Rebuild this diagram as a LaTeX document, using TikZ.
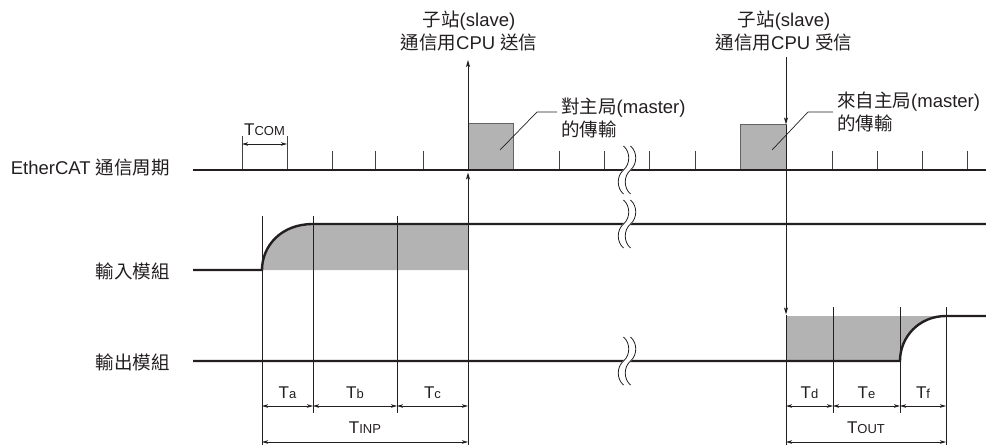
\documentclass[tikz,border=0pt]{standalone}
\usepackage{fontspec}
\setmainfont{Liberation Sans}
\newfontfamily\cjk{Noto Sans CJK TC}
\usetikzlibrary{arrows.meta}
\definecolor{ink}{HTML}{231F20}
\definecolor{pktgray}{HTML}{B3B3B3}
\newcommand{\C}[1]{{\cjk #1}}
\newcommand{\Tsub}[1]{T{\fontsize{13}{13}\selectfont #1}}
\tikzset{
  brk/.pic={
    \draw[white,line width=6pt] (0,-24) .. controls (7,-18) and (7,-6) .. (0,0) .. controls (-7,6) and (-7,18) .. (0,24);
    \draw[ink,line width=0.8pt] (-3.5,-24) .. controls (3.5,-18) and (3.5,-6) .. (-3.5,0) .. controls (-10.5,6) and (-10.5,18) .. (-3.5,24);
    \draw[ink,line width=0.8pt] (3.5,-24) .. controls (10.5,-18) and (10.5,-6) .. (3.5,0) .. controls (-3.5,6) and (-3.5,18) .. (3.5,24);
  }
}
\begin{document}
\begin{tikzpicture}[x=1pt,y=-1pt,
  txt/.style={font=\fontsize{18.5}{23}\selectfont, inner sep=0pt, text=ink},
  tl/.style={font=\fontsize{17}{20}\selectfont, inner sep=0pt, text=ink},
  sig/.style={line width=2.4pt, draw=ink},
  vline/.style={line width=0.9pt, draw=ink},
  tickln/.style={line width=0.9pt, draw=ink!85},
  dim/.style={line width=0.8pt, draw=ink, {Stealth[length=6pt,width=3.5pt,inset=1.5pt]}-{Stealth[length=6pt,width=3.5pt,inset=1.5pt]}},
  arr/.style={line width=0.9pt, draw=ink, -{Stealth[length=7pt,width=4pt,inset=1.5pt]}},
  pkt/.style={fill=pktgray, draw=ink!70, line width=0.8pt},
]
\useasboundingbox (0,0) rectangle (986,445);

% ---------- shaded regions ----------
\fill[pktgray] (262,270) .. controls (262,246) and (281,224) .. (313,224) -- (468,224) -- (468,270) -- cycle;
\fill[pktgray] (786,316) -- (946,316) .. controls (919,316) and (900,337) .. (900,361) -- (786,361) -- cycle;

% ---------- packets ----------
\node[pkt, minimum width=45pt, minimum height=46pt, inner sep=0pt, anchor=south west] (pk1) at (468,170) {};
\node[pkt, minimum width=46pt, minimum height=45pt, inner sep=0pt, anchor=south west] (pk2) at (740,170) {};

% ---------- ticks ----------
\foreach \x in {332,375,423,559,604,649,695,832,877,922,967}
  \draw[tickln] (\x,151) -- (\x,170);
\foreach \x in {242,287}
  \draw[tickln] (\x,136) -- (\x,170);

% ---------- vertical reference lines ----------
\draw[vline] (262,216) -- (262,445);
\draw[vline] (313,216) -- (313,413);
\draw[vline] (397,216) -- (397,413);
\draw[vline] (833,307) -- (833,413);
\draw[vline] (900,307) -- (900,413);
\draw[vline] (946,307) -- (946,445);
\draw[vline] (786,315) -- (786,445);

% ---------- signal lines ----------
\draw[sig] (193,170) -- (986,170);
\draw[sig] (193,270) -- (262,270) .. controls (262,246) and (281,224) .. (313,224) -- (986,224);
\draw[sig] (193,361) -- (900,361) .. controls (900,337) and (919,316) .. (946,316) -- (986,316);

% ---------- breaks ----------
\pic at (627,170) {brk};
\pic at (627,224) {brk};
\pic at (627,361) {brk};

% ---------- CPU arrows ----------
\coordinate (sb) at (468,445);
\coordinate (st) at (468,172.5);
\coordinate (su) at (468,169);
\coordinate (sl) at (468,60);
\draw[arr] (sb) -- (st);
\draw[arr] (su) -- (sl);
\coordinate (rl) at (786,57);
\coordinate (rt) at (786,124.5);
\coordinate (ru) at (786,125);
\coordinate (rb) at (786,314.5);
\draw[arr] (rl) -- (rt);
\draw[arr] (ru) -- (rb);

% ---------- top labels ----------
\node[txt, align=center] (send) at (469,31.5) {\C{子站}(slave)\\\C{通信用}CPU \C{送信}};
\node[txt, align=center] (recv) at (784,31.5) {\C{子站}(slave)\\\C{通信用}CPU \C{受信}};

% ---------- callouts ----------
\node[txt, align=left, anchor=west] (toM) at (561,118) {\C{對主局}(master)\\\C{的傳輸}};
\node[txt, align=left, anchor=west] (fromM) at (837,111.5) {\C{來自主局}(master)\\\C{的傳輸}};
\draw[vline, line width=0.7pt] (500,150) -- (537,112) -- (557,112);
\draw[vline, line width=0.7pt] (772,150) -- (808,112) -- (833,112);

% ---------- row labels ----------
\node[txt, anchor=east] (ecat) at (170,168) {EtherCAT \C{通信周期}};
\node[txt, anchor=east] (inp) at (170,271) {\C{輸入模組}};
\node[txt, anchor=east] (outp) at (170,362) {\C{輸出模組}};

% ---------- dimensions ----------
\draw[dim] (242,144) -- (287,144);
\node[tl] (tcom) at (264.5,130) {\Tsub{COM}};

\draw[dim] (262,406) -- (313,406);
\draw[dim] (313,406) -- (397,406);
\draw[dim] (397,406) -- (468,406);
\node[tl] (ta) at (287.5,393) {\Tsub{a}};
\node[tl] (tb) at (355,393) {\Tsub{b}};
\node[tl] (tc) at (432.5,393) {\Tsub{c}};
\draw[dim] (262,442) -- (468,442);
\node[tl] (tinp) at (365,428) {\Tsub{INP}};

\draw[dim] (786,406) -- (833,406);
\draw[dim] (833,406) -- (900,406);
\draw[dim] (900,406) -- (946,406);
\node[tl] (td) at (809.5,393) {\Tsub{d}};
\node[tl] (te) at (866.5,393) {\Tsub{e}};
\node[tl] (tf) at (923,393) {\Tsub{f}};
\draw[dim] (786,442) -- (946,442);
\node[tl] (tout) at (866,428) {\Tsub{OUT}};
\end{tikzpicture}
\end{document}
